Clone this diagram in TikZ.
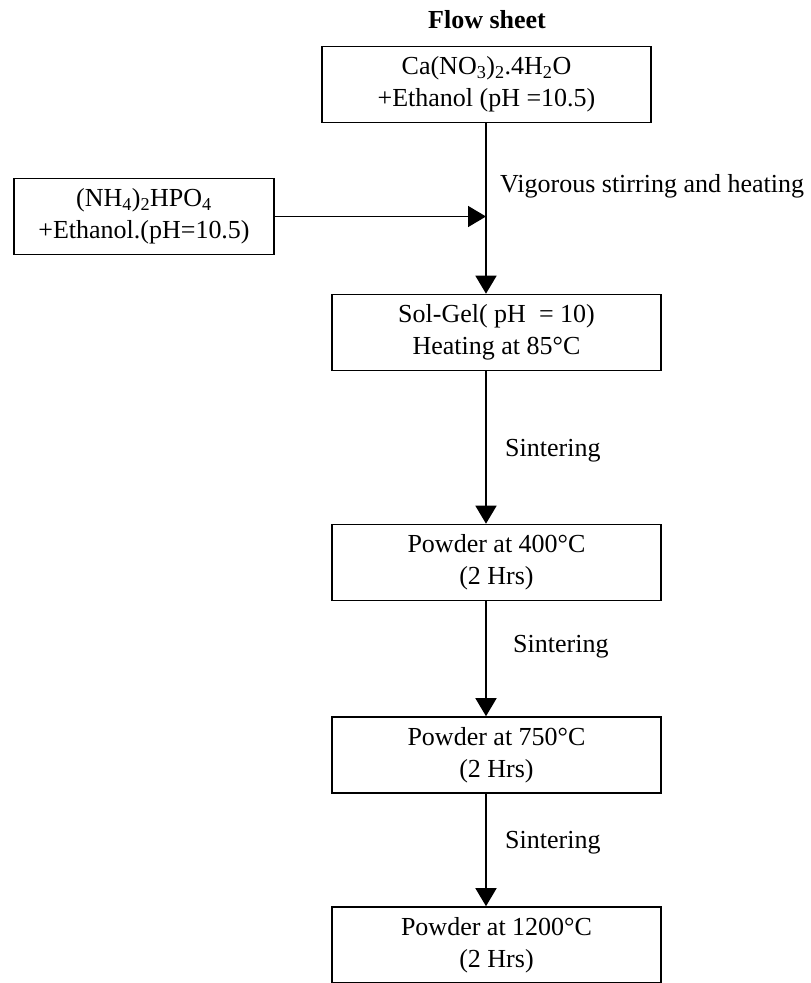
\documentclass[tikz,border=0pt]{standalone}
\usepackage{fontspec}
\setmainfont{Liberation Serif}
\usetikzlibrary{arrows.meta}
\begin{document}
\begin{tikzpicture}[x=1pt,y=-1pt,
  box/.style={draw, line width=1.6pt, minimum width=329pt, minimum height=76pt, inner sep=0pt, align=center, font=\fontsize{26}{32}\selectfont},
  lbl/.style={anchor=west, inner sep=0pt, font=\fontsize{26}{32}\selectfont},
  conn/.style={line width=1.6pt, -{Triangle[length=18pt,width=21pt]}},
]
\useasboundingbox (0,0) rectangle (811,983);
\coordinate (ax) at (486,0);
\node[inner sep=0pt, font=\bfseries\fontsize{26}{32}\selectfont] (title) at (487,20) {Flow sheet};
\node[box] (b1) at (486.5,84.5) {Ca(NO\textsubscript{3})\textsubscript{2}.4H\textsubscript{2}O\\+Ethanol (pH =10.5)};
\node[box, minimum width=260pt] (b0) at (144,216.5) {(NH\textsubscript{4})\textsubscript{2}HPO\textsubscript{4}\\+Ethanol.(pH=10.5)};
\node[box] (b2) at (496.5,332.5) {Sol-Gel( pH\ \ = 10)\\Heating at 85°C};
\node[box] (b3) at (496.5,562.5) {Powder at 400°C\\(2 Hrs)};
\node[box] (b4) at (496.5,755) {Powder at 750°C\\(2 Hrs)};
\node[box] (b5) at (496.5,945) {Powder at 1200°C\\(2 Hrs)};
\draw[conn] (b1.south -| ax) -- (b2.north -| ax);
\draw[conn] (b0.east) -- (b0.east -| ax);
\draw[conn] (b2.south -| ax) -- (b3.north -| ax);
\draw[conn] (b3.south -| ax) -- (b4.north -| ax);
\draw[conn] (b4.south -| ax) -- (b5.north -| ax);
\node[lbl] (l1) at (500,186) {Vigorous stirring and heating};
\node[lbl] (l2) at (505,451) {Sintering};
\node[lbl] (l3) at (513,647) {Sintering};
\node[lbl] (l4) at (505,843) {Sintering};
\end{tikzpicture}
\end{document}
